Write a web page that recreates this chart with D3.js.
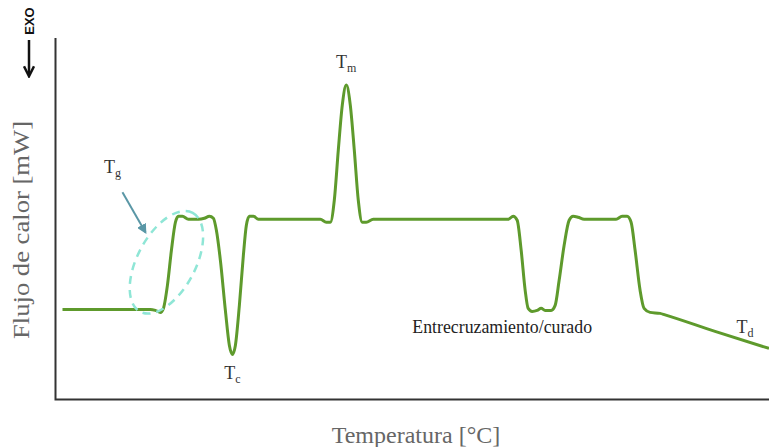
<!DOCTYPE html>
<html>
<head>
<meta charset="utf-8">
<script src="https://cdn.jsdelivr.net/npm/d3@7"></script>
<style>
  html, body { margin: 0; padding: 0; background: #fff; }
  svg { display: block; }
</style>
</head>
<body>
<div id="chart"></div>
<script>
// curva DSC (unidades arbitrarias)
const temperatura = [23.5, 67.5, 70, 72.5, 74, 76, 78, 80, 81.5, 83.5, 86.5, 91.5, 94.5, 97, 99,
  100.5, 102.5, 105, 107, 108.5, 110, 112, 114, 115.5, 117, 119, 121.5, 152.5, 155.5, 157.5,
  159.5, 161.5, 163.5, 165.5, 167.5, 169.5, 171.5, 173.5, 175.5, 179, 246.5, 249, 251, 253,
  255, 256.5, 258.5, 261, 263, 265, 268, 270, 272, 274.5, 277, 279, 281.5, 284.5, 300.5,
  303.5, 306, 308, 310, 312.5, 314.5, 317.5, 322.5, 325, 350, 377];
const flujo = [9.0, 9.0, 8.9, 8.7, 9.1, 11.4, 14.9, 17.7, 18.3, 18.3, 18.0, 18.0, 18.1, 18.3, 18.1,
  16.9, 13.9, 8.9, 5.4, 4.5, 5.4, 9.4, 14.4, 17.4, 18.3, 18.3, 18.0, 18.0, 17.7, 17.7,
  19.9, 24.9, 29.4, 31.4, 29.4, 24.9, 19.9, 17.7, 17.7, 18.0, 18.0, 18.3, 17.9, 14.9,
  10.9, 9.1, 8.8, 8.9, 9.1, 8.9, 8.9, 9.4, 11.9, 15.4, 17.9, 18.3, 18.2, 18.0, 18.0,
  18.3, 18.3, 17.7, 14.9, 10.9, 9.1, 8.7, 8.6, 8.45, 6.8, 5.1];

// etiquetas de transiciones
const etiquetas = [
  { base: "T", sub: "g", t: 48.5, f: 22.6 },
  { base: "T", sub: "c", t: 108.5, f: 2.0 },
  { base: "T", sub: "m", t: 165.5, f: 33.1 },
  { base: "T", sub: "d", t: 365, f: 6.6 }
];

const width = 769, height = 447;
const x = d3.scaleLinear().domain([20, 377]).range([55.5, 769]);
const y = d3.scaleLinear().domain([0, 36.1]).range([399.5, 38]);

const svg = d3.select("#chart").append("svg")
  .attr("width", width)
  .attr("height", height);

// ejes
svg.append("path")
  .attr("d", `M${x(20)},${y(36.1)} V${y(0)} H${x(377)}`)
  .attr("fill", "none")
  .attr("stroke", "#333")
  .attr("stroke-width", 2);

// curva
const datos = temperatura.map((t, i) => [t, flujo[i]]);
const linea = d3.line()
  .x(d => x(d[0]))
  .y(d => y(d[1]))
  .curve(d3.curveMonotoneX);

svg.append("path")
  .datum(datos)
  .attr("d", linea)
  .attr("fill", "none")
  .attr("stroke", "#5e9a2c")
  .attr("stroke-width", 3)
  .attr("stroke-linejoin", "round");

// elipse Tg
svg.append("ellipse")
  .attr("transform", `translate(${x(75.5)},${y(13.7)}) rotate(-62)`)
  .attr("rx", 56)
  .attr("ry", 29)
  .attr("fill", "none")
  .attr("stroke", "#8fe6d6")
  .attr("stroke-width", 2.5)
  .attr("stroke-dasharray", "8,6");

// flecha Tg
const defs = svg.append("defs");
defs.append("marker")
  .attr("id", "punta")
  .attr("viewBox", "0 0 10 10")
  .attr("refX", 8).attr("refY", 5)
  .attr("markerWidth", 5).attr("markerHeight", 5)
  .attr("orient", "auto")
  .append("path").attr("d", "M0,0 L10,5 L0,10 z").attr("fill", "#5a97a6");

svg.append("line")
  .attr("x1", x(53.5)).attr("y1", y(20.7))
  .attr("x2", x(65)).attr("y2", y(16.7))
  .attr("stroke", "#5a97a6")
  .attr("stroke-width", 2)
  .attr("marker-end", "url(#punta)");

// etiquetas T
etiquetas.forEach(e => {
  const txt = svg.append("text")
    .attr("x", x(e.t))
    .attr("y", y(e.f))
    .attr("text-anchor", "middle")
    .attr("font-family", "'Liberation Serif', serif")
    .attr("font-size", 18)
    .attr("fill", "#333");
  txt.append("tspan").text(e.base);
  txt.append("tspan").attr("dy", 4).attr("font-size", 12).text(e.sub);
});

svg.append("text")
  .attr("x", x(243.5))
  .attr("y", y(6.6))
  .attr("text-anchor", "middle")
  .attr("font-family", "'Liberation Serif', serif")
  .attr("font-size", 17.8)
  .attr("fill", "#222")
  .text("Entrecruzamiento/curado");

// títulos de ejes
svg.append("text")
  .attr("x", 416)
  .attr("y", 443)
  .attr("text-anchor", "middle")
  .attr("font-family", "'Liberation Serif', serif")
  .attr("font-size", 24)
  .attr("fill", "#666")
  .text("Temperatura [°C]");

svg.append("text")
  .attr("transform", "translate(29,230) rotate(-90)")
  .attr("text-anchor", "middle")
  .attr("font-family", "'Liberation Serif', serif")
  .attr("font-size", 23.5)
  .attr("textLength", 218)
  .attr("lengthAdjust", "spacingAndGlyphs")
  .attr("fill", "#666")
  .text("Flujo de calor [mW]");

// EXO
svg.append("text")
  .attr("transform", "translate(34,21) rotate(-90)")
  .attr("text-anchor", "middle")
  .attr("font-family", "'Liberation Sans', sans-serif")
  .attr("font-weight", "bold")
  .attr("font-size", 13)
  .attr("fill", "#111")
  .text("EXO");

defs.append("marker")
  .attr("id", "exo")
  .attr("viewBox", "0 0 10 10")
  .attr("refX", 8).attr("refY", 5)
  .attr("markerWidth", 5).attr("markerHeight", 5)
  .attr("orient", "auto")
  .append("path").attr("d", "M1,1 L9,5 L1,9").attr("fill", "none").attr("stroke", "#111").attr("stroke-width", 2);

svg.append("line")
  .attr("x1", 29).attr("y1", 40)
  .attr("x2", 29).attr("y2", 75)
  .attr("stroke", "#111")
  .attr("stroke-width", 2.5)
  .attr("marker-end", "url(#exo)");
</script>
</body>
</html>
